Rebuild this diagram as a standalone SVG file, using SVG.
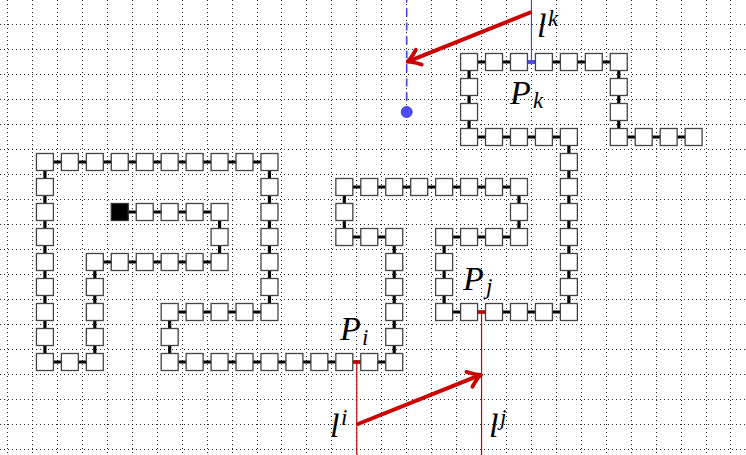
<svg xmlns="http://www.w3.org/2000/svg" xmlns:xlink="http://www.w3.org/1999/xlink" width="746" height="455" viewBox="0 0 746 455">
<style>
.grid{stroke:#000;stroke-width:1;stroke-dasharray:1 3;fill:none;stroke-opacity:0.85}
.sq{fill:#fff;stroke:#444;stroke-width:1.3}
.blk{fill:#000;stroke:#333;stroke-width:1.3}
.chain{fill:none;stroke:#000;stroke-width:3.2}
.red{stroke:#cc0000;fill:none}
.blue{stroke:#4444ff;fill:none}
.lbl{font-family:"Liberation Serif","DejaVu Serif",serif;font-style:italic;font-size:34px;fill:#000}
.scr{font-size:23px}
</style>
<defs>
<rect id="sq" class="sq" x="0" y="0" width="17" height="17"/>
<marker id="ah" markerUnits="userSpaceOnUse" viewBox="-16 -11 18 22" refX="0" refY="0" markerWidth="18" markerHeight="22" orient="auto">
<path d="M-12,-8 Q-4,-1.5 0,0 Q-4,1.5 -12,8" fill="none" stroke="#cc0000" stroke-width="3.8" stroke-linecap="round"/>
</marker>
</defs>
<rect width="746" height="455" fill="#fff"/>
<g id="grid" class="grid">
<path d="M0,24.5H746M0,49.5H746M0,74.5H746M0,99.5H746M0,124.5H746M0,149.5H746M0,174.5H746M0,199.5H746M0,224.5H746M0,249.5H746M0,274.5H746M0,299.5H746M0,324.5H746M0,349.5H746M0,374.5H746M0,399.5H746M0,424.5H746M0,449.5H746"/>
<path d="M7.5,0V455M32.5,0V455M57.5,0V455M82.5,0V455M107.5,0V455M132.5,0V455M157.5,0V455M182.5,0V455M207.5,0V455M232.5,0V455M257.5,0V455M281.5,0V455M306.5,0V455M331.5,0V455M356.5,0V455M381.5,0V455M406.5,0V455M431.5,0V455M456.5,0V455M481.5,0V455M506.5,0V455M531.5,0V455M556.5,0V455M581.5,0V455M606.5,0V455M631.5,0V455M656.5,0V455M681.5,0V455M706.5,0V455M730.5,0V455"/>
</g>
<g transform="translate(7.5 -0.5) scale(0.998 1)">
<g id="connectors">
<polyline class="chain" points="112.5,212.5 212.5,212.5 212.5,262.5 87.5,262.5 87.5,362.5 37.5,362.5 37.5,162.5 262.5,162.5 262.5,312.5 162.5,312.5 162.5,362.5 387.5,362.5 387.5,237.5 337.5,237.5 337.5,187.5 512.5,187.5 512.5,237.5 437.5,237.5 437.5,312.5 562.5,312.5 562.5,137.5 462.5,137.5 462.5,62.5 612.5,62.5 612.5,137.5 687.5,137.5"/>
<line class="red" x1="350" y1="362.5" x2="350" y2="460" stroke-width="1.2"/>
<line class="red" x1="475" y1="312.5" x2="475" y2="460" stroke-width="1.2"/>
<line class="blue" x1="525" y1="-5" x2="525" y2="62.5" stroke-width="1.2"/>
<line class="blue" x1="400" y1="-5" x2="400" y2="112.5" stroke-width="1.6" stroke-dasharray="8 6"/>
<circle cx="400" cy="112.5" r="5.5" fill="#4d4dff" stroke="#3030c0" stroke-width="0.8"/>
<line class="red" x1="346" y1="362.5" x2="354" y2="362.5" stroke-width="3.2"/>
<line class="red" x1="471" y1="312.5" x2="479" y2="312.5" stroke-width="3.2"/>
<line class="blue" x1="521" y1="62.5" x2="529" y2="62.5" stroke-width="3.2"/>
<line class="red" x1="350" y1="425" x2="474" y2="375.4" stroke-width="4" marker-end="url(#ah)"/>
<line class="red" x1="525" y1="12.5" x2="401" y2="62.1" stroke-width="4" marker-end="url(#ah)"/>
</g>
<g id="nodes">
<g id="n1"><rect class="blk" x="104" y="204" width="17" height="17"/></g>
<g id="n2"><use href="#sq" x="129" y="204"/></g>
<g id="n3"><use href="#sq" x="154" y="204"/></g>
<g id="n4"><use href="#sq" x="179" y="204"/></g>
<g id="n5"><use href="#sq" x="204" y="204"/></g>
<g id="n6"><use href="#sq" x="204" y="229"/></g>
<g id="n7"><use href="#sq" x="204" y="254"/></g>
<g id="n8"><use href="#sq" x="179" y="254"/></g>
<g id="n9"><use href="#sq" x="154" y="254"/></g>
<g id="n10"><use href="#sq" x="129" y="254"/></g>
<g id="n11"><use href="#sq" x="104" y="254"/></g>
<g id="n12"><use href="#sq" x="79" y="254"/></g>
<g id="n13"><use href="#sq" x="79" y="279"/></g>
<g id="n14"><use href="#sq" x="79" y="304"/></g>
<g id="n15"><use href="#sq" x="79" y="329"/></g>
<g id="n16"><use href="#sq" x="79" y="354"/></g>
<g id="n17"><use href="#sq" x="54" y="354"/></g>
<g id="n18"><use href="#sq" x="29" y="354"/></g>
<g id="n19"><use href="#sq" x="29" y="329"/></g>
<g id="n20"><use href="#sq" x="29" y="304"/></g>
<g id="n21"><use href="#sq" x="29" y="279"/></g>
<g id="n22"><use href="#sq" x="29" y="254"/></g>
<g id="n23"><use href="#sq" x="29" y="229"/></g>
<g id="n24"><use href="#sq" x="29" y="204"/></g>
<g id="n25"><use href="#sq" x="29" y="179"/></g>
<g id="n26"><use href="#sq" x="29" y="154"/></g>
<g id="n27"><use href="#sq" x="54" y="154"/></g>
<g id="n28"><use href="#sq" x="79" y="154"/></g>
<g id="n29"><use href="#sq" x="104" y="154"/></g>
<g id="n30"><use href="#sq" x="129" y="154"/></g>
<g id="n31"><use href="#sq" x="154" y="154"/></g>
<g id="n32"><use href="#sq" x="179" y="154"/></g>
<g id="n33"><use href="#sq" x="204" y="154"/></g>
<g id="n34"><use href="#sq" x="229" y="154"/></g>
<g id="n35"><use href="#sq" x="254" y="154"/></g>
<g id="n36"><use href="#sq" x="254" y="179"/></g>
<g id="n37"><use href="#sq" x="254" y="204"/></g>
<g id="n38"><use href="#sq" x="254" y="229"/></g>
<g id="n39"><use href="#sq" x="254" y="254"/></g>
<g id="n40"><use href="#sq" x="254" y="279"/></g>
<g id="n41"><use href="#sq" x="254" y="304"/></g>
<g id="n42"><use href="#sq" x="229" y="304"/></g>
<g id="n43"><use href="#sq" x="204" y="304"/></g>
<g id="n44"><use href="#sq" x="179" y="304"/></g>
<g id="n45"><use href="#sq" x="154" y="304"/></g>
<g id="n46"><use href="#sq" x="154" y="329"/></g>
<g id="n47"><use href="#sq" x="154" y="354"/></g>
<g id="n48"><use href="#sq" x="179" y="354"/></g>
<g id="n49"><use href="#sq" x="204" y="354"/></g>
<g id="n50"><use href="#sq" x="229" y="354"/></g>
<g id="n51"><use href="#sq" x="254" y="354"/></g>
<g id="n52"><use href="#sq" x="279" y="354"/></g>
<g id="n53"><use href="#sq" x="304" y="354"/></g>
<g id="n54"><use href="#sq" x="329" y="354"/></g>
<g id="n55"><use href="#sq" x="354" y="354"/></g>
<g id="n56"><use href="#sq" x="379" y="354"/></g>
<g id="n57"><use href="#sq" x="379" y="329"/></g>
<g id="n58"><use href="#sq" x="379" y="304"/></g>
<g id="n59"><use href="#sq" x="379" y="279"/></g>
<g id="n60"><use href="#sq" x="379" y="254"/></g>
<g id="n61"><use href="#sq" x="379" y="229"/></g>
<g id="n62"><use href="#sq" x="354" y="229"/></g>
<g id="n63"><use href="#sq" x="329" y="229"/></g>
<g id="n64"><use href="#sq" x="329" y="204"/></g>
<g id="n65"><use href="#sq" x="329" y="179"/></g>
<g id="n66"><use href="#sq" x="354" y="179"/></g>
<g id="n67"><use href="#sq" x="379" y="179"/></g>
<g id="n68"><use href="#sq" x="404" y="179"/></g>
<g id="n69"><use href="#sq" x="429" y="179"/></g>
<g id="n70"><use href="#sq" x="454" y="179"/></g>
<g id="n71"><use href="#sq" x="479" y="179"/></g>
<g id="n72"><use href="#sq" x="504" y="179"/></g>
<g id="n73"><use href="#sq" x="504" y="204"/></g>
<g id="n74"><use href="#sq" x="504" y="229"/></g>
<g id="n75"><use href="#sq" x="479" y="229"/></g>
<g id="n76"><use href="#sq" x="454" y="229"/></g>
<g id="n77"><use href="#sq" x="429" y="229"/></g>
<g id="n78"><use href="#sq" x="429" y="254"/></g>
<g id="n79"><use href="#sq" x="429" y="279"/></g>
<g id="n80"><use href="#sq" x="429" y="304"/></g>
<g id="n81"><use href="#sq" x="454" y="304"/></g>
<g id="n82"><use href="#sq" x="479" y="304"/></g>
<g id="n83"><use href="#sq" x="504" y="304"/></g>
<g id="n84"><use href="#sq" x="529" y="304"/></g>
<g id="n85"><use href="#sq" x="554" y="304"/></g>
<g id="n86"><use href="#sq" x="554" y="279"/></g>
<g id="n87"><use href="#sq" x="554" y="254"/></g>
<g id="n88"><use href="#sq" x="554" y="229"/></g>
<g id="n89"><use href="#sq" x="554" y="204"/></g>
<g id="n90"><use href="#sq" x="554" y="179"/></g>
<g id="n91"><use href="#sq" x="554" y="154"/></g>
<g id="n92"><use href="#sq" x="554" y="129"/></g>
<g id="n93"><use href="#sq" x="529" y="129"/></g>
<g id="n94"><use href="#sq" x="504" y="129"/></g>
<g id="n95"><use href="#sq" x="479" y="129"/></g>
<g id="n96"><use href="#sq" x="454" y="129"/></g>
<g id="n97"><use href="#sq" x="454" y="104"/></g>
<g id="n98"><use href="#sq" x="454" y="79"/></g>
<g id="n99"><use href="#sq" x="454" y="54"/></g>
<g id="n100"><use href="#sq" x="479" y="54"/></g>
<g id="n101"><use href="#sq" x="504" y="54"/></g>
<g id="n102"><use href="#sq" x="529" y="54"/></g>
<g id="n103"><use href="#sq" x="554" y="54"/></g>
<g id="n104"><use href="#sq" x="579" y="54"/></g>
<g id="n105"><use href="#sq" x="604" y="54"/></g>
<g id="n106"><use href="#sq" x="604" y="79"/></g>
<g id="n107"><use href="#sq" x="604" y="104"/></g>
<g id="n108"><use href="#sq" x="604" y="129"/></g>
<g id="n109"><use href="#sq" x="629" y="129"/></g>
<g id="n110"><use href="#sq" x="654" y="129"/></g>
<g id="n111"><use href="#sq" x="679" y="129"/></g>
</g>
</g>
<g id="labels" class="lbl">
<text x="537" y="37">l<tspan class="scr" x="548" y="26">k</tspan></text>
<text x="510" y="104">P<tspan class="scr" x="533" y="108">k</tspan></text>
<text x="340" y="340">P<tspan class="scr" x="362" y="345">i</tspan></text>
<text x="463" y="290">P<tspan class="scr" x="486" y="294">j</tspan></text>
<text x="330" y="437">l<tspan class="scr" x="341" y="425">i</tspan></text>
<text x="489" y="437">l<tspan class="scr" x="500" y="425">j</tspan></text>
</g>
</svg>
